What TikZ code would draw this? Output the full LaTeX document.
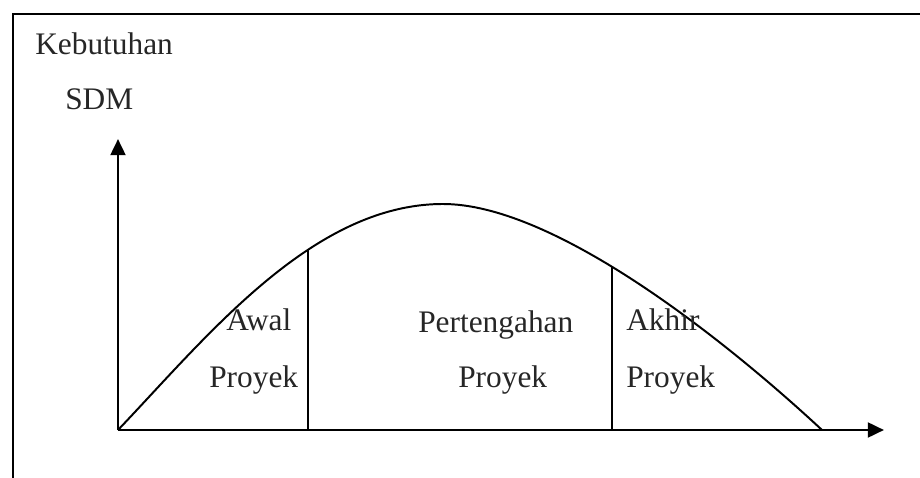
\documentclass[tikz,border=0pt]{standalone}
\usepackage{fontspec}
\setmainfont{Liberation Serif}
\usetikzlibrary{arrows.meta}
\begin{document}
\begin{tikzpicture}[x=0.025cm, y=-0.025cm,
  frameline/.style={line width=1.3pt},
  axisline/.style={line width=2pt, -{Triangle[length=11.5pt, width=10.5pt]}},
  curveline/.style={line width=1.4pt},
  divider/.style={line width=1.3pt},
  lbl/.style={anchor=base west, inner sep=0pt, font=\fontsize{22.3}{26}\selectfont, text=black!85}]
  \useasboundingbox (0,0) rectangle (920,478);
  % outer frame (top and left edges only)
  \coordinate (fbl) at (13,480);
  \coordinate (ftl) at (13,14);
  \coordinate (ftr) at (922,14);
  \draw[frameline] (fbl) -- (ftl) -- (ftr);
  % axes
  \coordinate (o) at (118,430);
  \coordinate (ytip) at (118,139);
  \coordinate (xtip) at (884,430);
  \draw[axisline] (o) -- (ytip);
  \draw[axisline] (o) -- (xtip);
  % demand curve: rise to the peak, then fall back to the axis
  \coordinate (peak) at (443,204);
  \coordinate (cend) at (822,430);
  \draw[curveline] (o) .. controls (208,335.5) and (313,204) .. (peak)
                       .. controls (553,204) and (722,337) .. (cend);
  % phase dividers
  \coordinate (d1t) at (308,249.5);
  \coordinate (d1b) at (308,430);
  \coordinate (d2t) at (612,266.5);
  \coordinate (d2b) at (612,430);
  \draw[divider] (d1t) -- (d1b);
  \draw[divider] (d2t) -- (d2b);
  % labels
  \node[lbl] (kb) at (35,55) {Kebutuhan};
  \node[lbl] (sdm) at (65,110) {SDM};
  \node[lbl] (aw) at (226,330) {Awal};
  \node[lbl] (p1) at (209,387) {Proyek};
  \node[lbl] (pt) at (418,332) {Pertengahan};
  \node[lbl] (p2) at (458,387) {Proyek};
  \node[lbl] (ak) at (626,330) {Akhir};
  \node[lbl] (p3) at (626,387) {Proyek};
\end{tikzpicture}
\end{document}
